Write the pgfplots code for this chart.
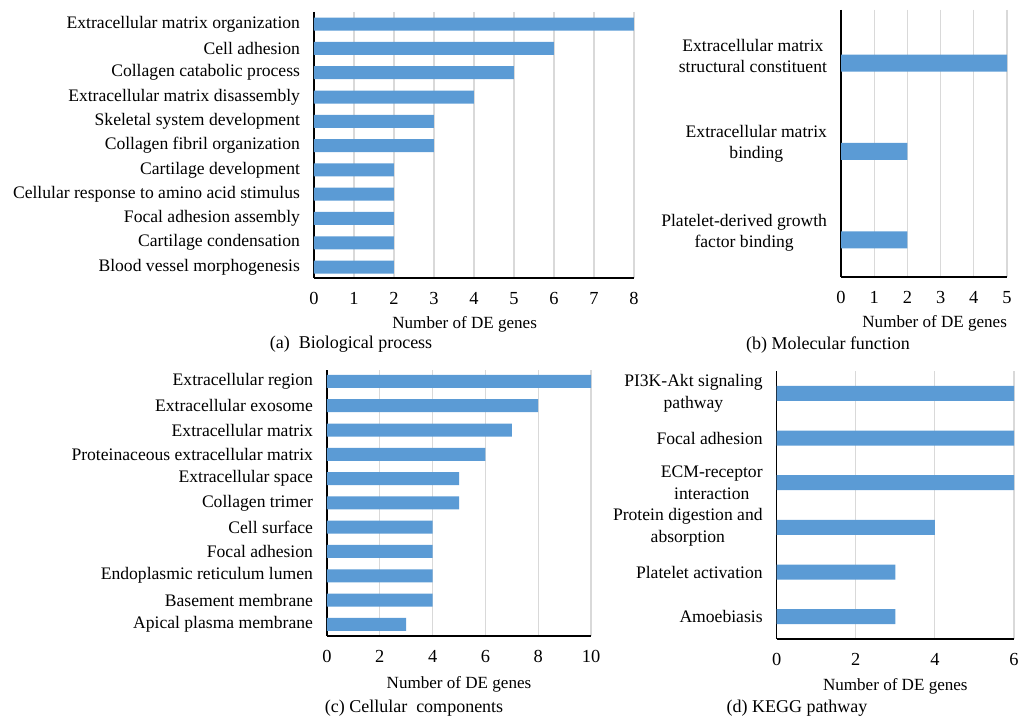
\documentclass[border=0pt]{standalone}
\usepackage{pgfplots}
\pgfplotsset{compat=1.18}
\usepackage{fontspec}
\setmainfont{Liberation Serif}
\definecolor{barblue}{HTML}{5B9BD5}
\definecolor{gridgray}{HTML}{D9D9D9}
\pgfplotsset{
  myax/.style={
    scale only axis,
    anchor=north west,
    xbar, y dir=reverse,
    axis x line=bottom, axis y line=left,
    axis line style={-, black, line width=1pt},
    xmajorgrids, grid style={gridgray, line width=0.8pt},
    major tick length=0pt,
    xmin=0,
    ytick=data,
    yticklabel style={font=\fontsize{13.2}{16}\selectfont, xshift=-7pt},
    xticklabel style={font=\fontsize{13.8}{16}\selectfont, yshift=-7.5pt},
    label style={font=\fontsize{12.8}{16}\selectfont},
    /pgf/number format/assume math mode=true,
    xlabel={Number of DE genes},
    xlabel style={yshift=-1.5pt},
    clip=false,
  },
}
\begin{document}
\begin{tikzpicture}
\path[use as bounding box] (0,0) rectangle (765.75pt,-537pt);
% (a)
\begin{axis}[myax, at={(235.5pt,-9pt)}, width=240pt, height=199.5pt,
  xmax=8, xtick={0,...,8}, ymin=-0.5, ymax=10.45, bar width=9.75pt,
  xlabel style={xshift=-7pt},
  yticklabels={Extracellular matrix organization, Cell adhesion, Collagen catabolic process, Extracellular matrix disassembly, Skeletal system development, Collagen fibril organization, Cartilage development, Cellular response to amino acid stimulus, Focal adhesion assembly, Cartilage condensation, Blood vessel morphogenesis}]
\addplot[fill=barblue, draw=none] coordinates {(8,0) (6,1) (5,2) (4,3) (3,4) (3,5) (2,6) (2,7) (2,8) (2,9) (2,10)};
\end{axis}
% (b)
\begin{axis}[myax, at={(630.75pt,-7.5pt)}, width=124.5pt, height=200.25pt,
  xmax=5, xtick={0,...,5}, ymin=-0.6, ymax=2.42, bar width=12.75pt,
  xlabel style={xshift=8pt},
  yticklabel style={align=center, yshift=5.5pt},
  yticklabels={{Extracellular matrix\\structural constituent}, {Extracellular matrix\\binding}, {Platelet-derived growth\\factor binding}}]
\addplot[fill=barblue, draw=none] coordinates {(5,0) (2,1) (2,2)};
\end{axis}
% (c)
\begin{axis}[myax, at={(245.25pt,-277.5pt)}, width=198pt, height=199.5pt,
  xmax=10, xtick={0,2,...,10}, ymin=-0.47, ymax=10.48, bar width=9.75pt,
  xlabel style={yshift=-1.5pt},
  yticklabels={Extracellular region, Extracellular exosome, Extracellular matrix, Proteinaceous extracellular matrix, Extracellular space, Collagen trimer, Cell surface, Focal adhesion, Endoplasmic reticulum lumen, Basement membrane, Apical plasma membrane}]
\addplot[fill=barblue, draw=none] coordinates {(10,0) (8,1) (7,2) (6,3) (5,4) (5,5) (4,6) (4,7) (4,8) (4,9) (3,10)};
\end{axis}
% (d)
\begin{axis}[myax, at={(582.5pt,-278.25pt)}, width=178pt, height=201pt,
  xmax=6, xtick={0,2,4,6}, ymin=-0.5, ymax=5.5, bar width=11.25pt,
  xlabel style={yshift=-1pt},
  yticklabel style={align=center},
  yticklabels={{PI3K-Akt signaling\\pathway}, Focal adhesion, {ECM-receptor\\interaction}, {Protein digestion and\\absorption}, Platelet activation, Amoebiasis}]
\addplot[fill=barblue, draw=none] coordinates {(6,0) (6,1) (6,2) (4,3) (3,4) (3,5)};
\end{axis}
\begin{scope}[every node/.style={font=\fontsize{13.5}{16}\selectfont}]
\node at (263.25pt,-258.5pt) {(a)\ \ Biological process};
\node at (621pt,-258.5pt) {(b) Molecular function};
\node at (310.5pt,-531pt) {(c) Cellular\ \ components};
\node at (597.75pt,-531pt) {(d) KEGG pathway};
\end{scope}
\end{tikzpicture}
\end{document}
